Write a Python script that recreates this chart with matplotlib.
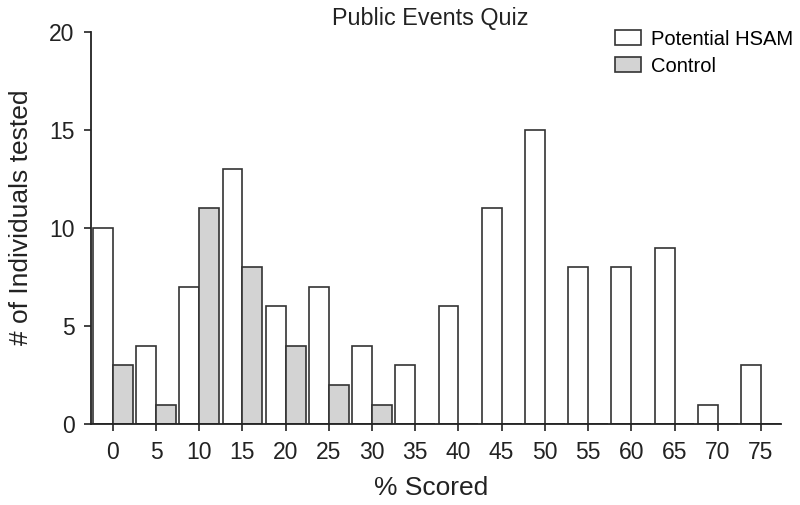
import numpy as np
import matplotlib.pyplot as plt

plt.rcParams['font.family'] = ['Liberation Sans', 'DejaVu Sans']

# Data
scores = [0, 5, 10, 15, 20, 25, 30, 35, 40, 45, 50, 55, 60, 65, 70, 75]
hsam = [10, 4, 7, 13, 6, 7, 4, 3, 6, 11, 15, 8, 8, 9, 1, 3]
control = [3, 1, 11, 8, 4, 2, 1, 0, 0, 0, 0, 0, 0, 0, 0, 0]

x = np.arange(len(scores))
w = 0.46
edge = '#333333'
ink = '#222222'

fig = plt.figure(figsize=(8, 5.05), dpi=100)
ax = fig.add_axes([0.114, 0.160, 0.862, 0.777])

# HSAM bar sits left of the tick, control bar right of it
ax.bar(x - w, hsam, width=w, align='edge', color='white',
       edgecolor=edge, linewidth=1.2, label='Potential HSAM')
ax.bar(x, control, width=w, align='edge', color='#d3d3d3',
       edgecolor=edge, linewidth=1.2, label='Control')

ax.set_xlim(-0.5, 15.46)
ax.set_ylim(0, 20)
ax.set_xticks(x)
ax.set_xticklabels([str(s) for s in scores])
ax.set_yticks([0, 5, 10, 15, 20])

for s in ['top', 'right']:
    ax.spines[s].set_visible(False)
for s in ['left', 'bottom']:
    ax.spines[s].set_color(ink)
    ax.spines[s].set_linewidth(1.3)
ax.tick_params(axis='both', direction='out', length=5, width=1.2,
               color=ink, labelsize=16.5, labelcolor=ink)
ax.tick_params(axis='x', pad=7)
ax.tick_params(axis='y', pad=7)

ax.set_xlabel('% Scored', fontsize=19, color=ink)
ax.xaxis.set_label_coords(0.493, -0.133)
ax.set_ylabel('# of Individuals tested', fontsize=19, color=ink)
ax.yaxis.set_label_coords(-0.084, 0.527)
ax.set_title('Public Events Quiz', fontsize=16.8, color=ink, pad=5, x=0.492)

fig.legend(loc='upper left', bbox_to_anchor=(0.769, 0.941), frameon=False,
           fontsize=14.5, handlelength=1.3, handleheight=0.75,
           labelspacing=0.4, handletextpad=0.5, borderpad=0, borderaxespad=0)

fig.savefig('out.png')
